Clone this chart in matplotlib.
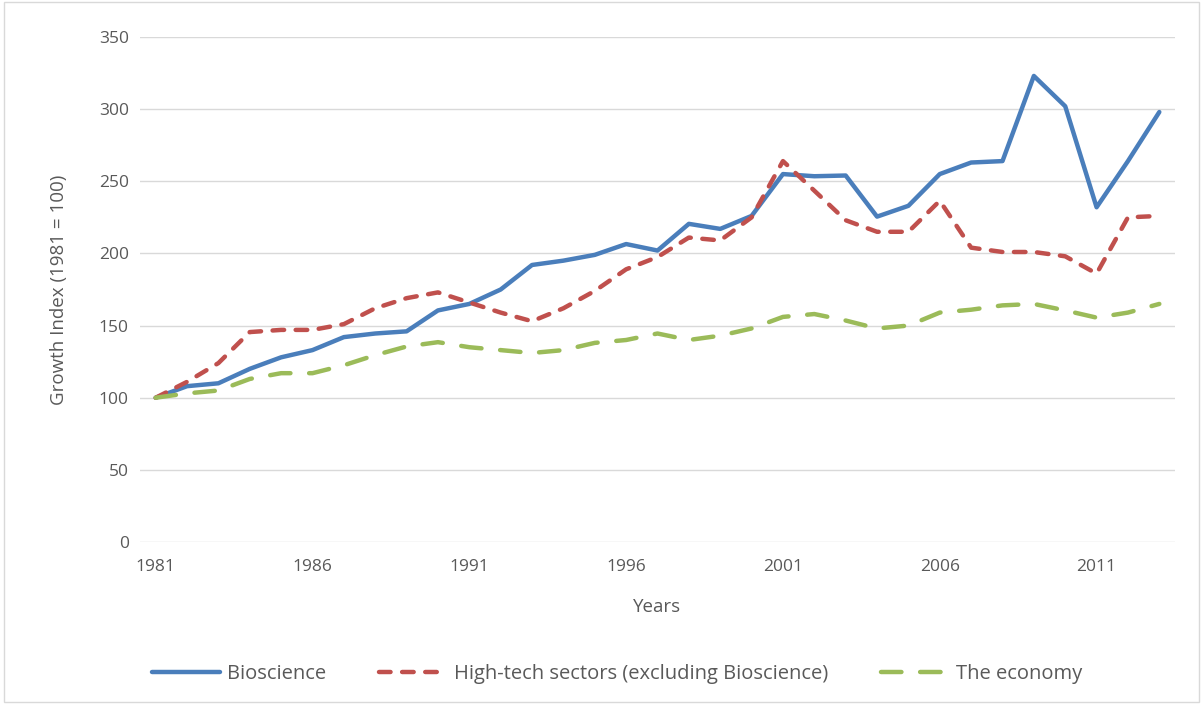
import matplotlib.pyplot as plt
from matplotlib.patches import Rectangle

# Growth index values (1981 = 100)
years = list(range(1981, 2014))
bioscience = [100, 108, 110, 120, 128, 133, 142, 144.5, 146, 160.5, 165, 175, 192,
              195, 199, 206.5, 202, 220.5, 217, 226, 255, 253.5, 254, 225.5, 233,
              255, 263, 264, 323, 302, 232, 264, 298]
high_tech = [100, 111, 124, 145.5, 147, 147, 151, 162, 169, 173, 166, 159, 153,
             162, 174, 189, 197.5, 211, 209, 225, 264, 243.5, 223, 215, 215,
             236.5, 204, 201, 201, 198, 186, 225, 226]
economy = [100, 103, 105, 113, 117, 117, 122.5, 129.5, 135.5, 138.5, 135, 133, 131,
           133, 138, 140, 144.5, 140, 143, 148, 156, 158, 153.5, 148, 150,
           159, 161, 164, 165, 160.5, 155.5, 159, 165]
xtick_years = [1981, 1986, 1991, 1996, 2001, 2006, 2011]
yticks = [0, 50, 100, 150, 200, 250, 300, 350]

plt.rcParams['font.family'] = ['Open Sans', 'DejaVu Sans']
txt = '#595959'

fig = plt.figure(figsize=(12.03, 7.04), dpi=100)
ax = fig.add_axes([140 / 1203, 1 - 542 / 704, 1035 / 1203, 505 / 704])

ax.plot(years, bioscience, color='#4A7EBB', lw=3.2, solid_capstyle='round',
        solid_joinstyle='round', label='Bioscience')
ax.plot(years, high_tech, color='#C0504D', lw=3.2, dashes=(2.6, 2.6),
        dash_capstyle='round', dash_joinstyle='round',
        label='High-tech sectors (excluding Bioscience)')
ax.plot(years, economy, color='#9BBB59', lw=3.2, dashes=(4.6, 4.2),
        dash_capstyle='round', dash_joinstyle='round', label='The economy')

ax.set_xlim(1980.5, 2013.5)
ax.set_ylim(0, 350)
ax.set_xticks(xtick_years)
ax.set_yticks(yticks)
ax.tick_params(length=0, labelsize=12.5, colors=txt)
ax.tick_params(axis='x', pad=12)
ax.tick_params(axis='y', pad=8)
ax.grid(axis='y', color='#D9D9D9', lw=1)
ax.set_axisbelow(True)
for s in ax.spines.values():
    s.set_visible(False)

ax.set_xlabel('Years', fontsize=13.5, color=txt, labelpad=17)
ax.set_ylabel('Growth Index (1981 = 100)', fontsize=13.5, color=txt, labelpad=22)

leg = fig.legend(loc='center', bbox_to_anchor=(0.513, 1 - 674 / 704), ncol=3,
                 frameon=False, fontsize=14.5, handlelength=3.4, columnspacing=2.6,
                 handletextpad=0.35)
for t in leg.get_texts():
    t.set_color(txt)

# light chart-area border
fig.patches.append(Rectangle((0.003, 0.003), 0.994, 0.994, transform=fig.transFigure,
                             fill=False, edgecolor='#D9D9D9', lw=1))

fig.savefig('out.png', dpi=100)
